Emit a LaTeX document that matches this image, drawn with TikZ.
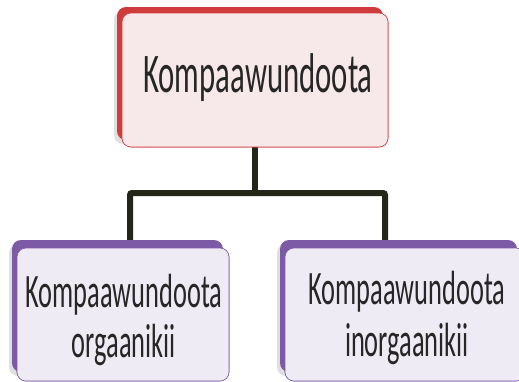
\documentclass[tikz,border=0pt]{standalone}
\usepackage{fontspec}
\newfontfamily\boxfont{Carlito}[FakeStretch=0.55]
\usetikzlibrary{positioning,shadows}

\definecolor{topred}{HTML}{D03B3B}
\definecolor{topfill}{HTML}{F7E9EA}
\definecolor{subpurple}{HTML}{7D5AA6}
\definecolor{subfill}{HTML}{EFEBF4}
\definecolor{linkdark}{HTML}{25261A}

\tikzset{
  backpanel/.style={fill=#1, rounded corners=9pt,
    drop shadow={opacity=0.25, shadow xshift=-3pt, shadow yshift=-4pt}},
  frontpanel/.style={draw=#1, line width=0.6pt, rounded corners=9pt,
    inner sep=0pt},
  boxtext/.style={align=center, inner sep=0pt, text=black!85},
  link/.style={draw=linkdark, line width=6pt, rounded corners=2pt},
}

\begin{document}
\begin{tikzpicture}[x=1pt, y=-1pt]
    \useasboundingbox (0,0) rectangle (519,381);

    % boxes first, only to name them
    \node[frontpanel=topred, minimum width=266, minimum height=134] (top) at (255,80) {};
    \node[frontpanel=subpurple, minimum width=212, minimum height=133] (org) at (123,314.5) {};
    \node[frontpanel=subpurple, minimum width=240, minimum height=133] (inorg) at (405,314.5) {};

    % connectors go under the panels
    \coordinate (hub) at (255,193);
    \coordinate (lftdrop) at (130,242);
    \coordinate (rgtdrop) at (385,242);
    \draw[link] (top.south) -- (hub);
    \draw[link] (lftdrop) |- (hub) -| (rgtdrop);

    % top box
    \fill[backpanel=topred] (117,7) rectangle (383,140);
    \node[frontpanel=topred, fill=topfill, minimum width=266, minimum height=134] at (top) {};
    \node[boxtext, anchor=base, font=\boxfont\fontsize{56}{60}\selectfont] (toptext) at (258,92) {Kompaawundoota};

    % lower boxes
    \fill[backpanel=subpurple] (12,240) rectangle (223,372);
    \node[frontpanel=subpurple, fill=subfill, minimum width=212, minimum height=133] at (org) {};
    \node[boxtext, anchor=base, font=\boxfont\fontsize{48}{50}\selectfont] (orgtext) at (124,357)
          {Kompaawundoota\\orgaanikii};

    \fill[backpanel=subpurple] (280,240) rectangle (517,372);
    \node[frontpanel=subpurple, fill=subfill, minimum width=240, minimum height=133] at (inorg) {};
    \node[boxtext, anchor=base, font=\boxfont\fontsize{48}{52}\selectfont] (inorgtext) at (407,356)
          {Kompaawundoota\\inorgaanikii};
\end{tikzpicture}
\end{document}
